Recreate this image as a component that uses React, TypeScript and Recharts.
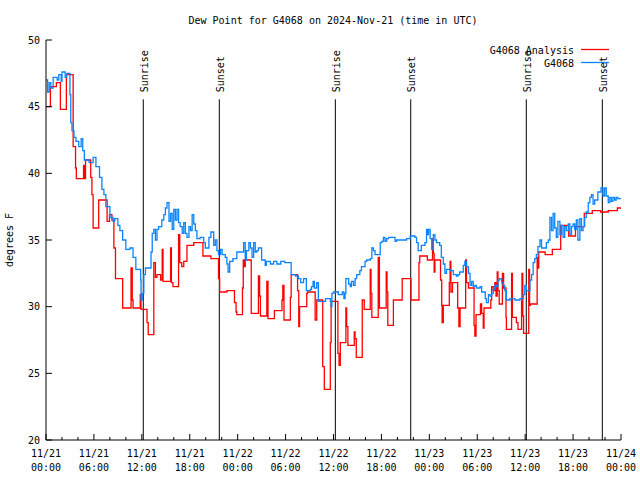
import { Line, LineChart, ReferenceLine, XAxis, YAxis } from "recharts"

// hours since 11/21 00:00 UTC, dew point in degrees F
const obsHours = [
  0, 0.2, 0.4, 0.6, 0.9, 1.4, 1.6, 1.9, 2.0, 2.4, 2.6, 3.0, 3.1, 3.25, 3.5, 3.75, 4.1, 4.4, 4.6, 4.8,
  5.4, 5.9, 6.25, 6.7, 7.0, 7.25, 7.5, 8.0, 8.4, 8.6, 9.0, 9.25, 9.6, 10.0, 10.5, 10.9, 11.25, 11.85, 11.9, 12.05,
  12.25, 12.45, 13.15, 13.3, 13.5, 13.7, 13.9, 14.1, 14.5, 14.75, 14.95, 15.15, 15.4, 15.6, 15.8, 16.0, 16.2, 16.4, 16.6, 16.8,
  17.05, 17.25, 17.45, 17.65, 17.9, 18.1, 18.3, 18.5, 18.7, 18.9, 19.3, 19.75, 19.95, 20.4, 20.65, 21.0, 21.2, 21.4, 21.6, 21.85,
  22.05, 22.45, 22.65, 22.8, 23.0, 23.4, 23.9, 24.5, 24.75, 24.95, 25.1, 25.4, 25.6, 25.8, 26.0, 26.2, 26.4, 26.6, 27.0, 27.45,
  27.6, 28.1, 28.5, 28.9, 29.4, 29.9, 30.7, 31.25, 31.6, 31.9, 32.25, 32.6, 33.1, 33.25, 33.45, 33.6, 33.9, 34.1, 35.0, 35.6,
  35.7, 35.8, 36.0, 36.6, 37.1, 37.3, 37.45, 37.55, 37.9, 38.1, 38.25, 38.5, 38.7, 38.9, 39.3, 39.5, 39.95, 40.15, 40.6, 40.8,
  41.0, 41.2, 41.85, 42.05, 42.25, 42.45, 42.65, 42.9, 43.7, 43.9, 45.15, 45.6, 46.2, 46.4, 46.6, 47.0, 47.45, 47.65, 47.75, 47.9,
  48.1, 48.3, 48.5, 48.7, 48.9, 49.3, 49.5, 49.75, 49.95, 50.15, 50.6, 51.0, 51.4, 51.6, 51.8, 52.25, 52.45, 52.65, 52.9, 53.1,
  53.3, 53.5, 53.7, 53.9, 54.35, 54.55, 55.0, 55.15, 55.4, 55.6, 55.8, 56.0, 56.2, 56.4, 56.6, 56.8, 57.05, 57.25, 57.45, 57.65,
  58.1, 58.7, 59.35, 59.75, 59.95, 60.15, 60.6, 60.8, 61.0, 61.2, 61.4, 61.6, 61.85, 62.05, 62.65, 62.9, 63.1, 63.3, 63.5, 63.7,
  63.9, 64.1, 64.35, 64.55, 64.75, 64.95, 65.15, 65.4, 65.6, 65.8, 66.0, 66.2, 66.4, 66.6, 66.85, 67.05, 67.25, 67.45, 67.65, 67.9,
  68.1, 68.3, 68.5, 68.7, 69.1, 69.5, 69.75, 69.95, 70.15, 70.4, 70.6, 70.8, 71.0, 71.2, 71.4, 71.6, 72,
]
const obsValues = [
  47.0, 46.1, 46.8, 46.4, 47.2, 47.0, 47.4, 46.9, 47.6, 47.2, 47.5, 45.9, 43.8, 43.2, 42.7, 42.4, 42.0, 42.6, 41.7, 41.0,
  40.8, 41.2, 40.5, 39.7, 38.8, 38.4, 37.5, 36.7, 36.4, 36.6, 36.1, 35.7, 35.0, 34.3, 34.4, 33.7, 32.8, 32.0, 30.5, 31.0,
  32.4, 32.9, 34.1, 35.5, 35.8, 35.0, 35.8, 36.0, 36.5, 36.9, 37.4, 37.8, 36.4, 37.0, 35.8, 37.3, 36.5, 37.3, 36.3, 36.0,
  35.5, 36.3, 35.5, 35.2, 36.0, 35.7, 36.9, 36.2, 35.7, 35.1, 35.2, 34.8, 34.4, 35.2, 35.6, 34.6, 35.0, 34.2, 33.9, 34.3,
  33.9, 33.7, 33.2, 32.6, 33.4, 33.6, 34.1, 34.1, 34.8, 33.5, 34.2, 34.8, 34.4, 33.7, 34.8, 34.1, 34.2, 34.4, 33.5, 33.1,
  33.4, 33.2, 33.4, 33.2, 33.4, 33.3, 32.4, 32.3, 32.1, 31.8, 32.1, 31.2, 31.3, 31.5, 31.9, 31.4, 31.8, 30.4, 30.6, 30.4,
  30.0, 31.0, 31.1, 30.9, 31.1, 30.6, 31.0, 32.1, 31.7, 31.5, 31.9, 31.6, 32.1, 32.4, 32.7, 33.0, 33.4, 33.5, 33.6, 34.4,
  34.2, 33.9, 34.8, 34.9, 35.2, 34.9, 35.1, 35.2, 34.9, 35.0, 35.1, 35.3, 35.2, 34.8, 34.2, 34.6, 34.8, 35.8, 35.4, 35.8,
  35.1, 34.3, 35.4, 35.0, 34.8, 34.6, 33.7, 33.2, 32.5, 32.8, 32.7, 32.4, 32.3, 32.4, 32.6, 33.1, 33.4, 33.0, 32.5, 31.6,
  31.9, 31.5, 31.6, 31.4, 31.5, 31.1, 30.6, 30.3, 30.9, 30.8, 31.0, 31.3, 31.6, 31.5, 32.0, 32.1, 31.8, 31.6, 31.2, 30.5,
  30.6, 30.5, 30.6, 30.9, 31.6, 31.2, 32.0, 32.4, 33.3, 33.6, 33.9, 34.5, 35.0, 34.4, 34.8, 35.0, 36.7, 35.7, 37.0, 35.9,
  35.2, 36.4, 35.4, 36.1, 35.2, 36.0, 35.7, 36.2, 35.4, 36.0, 36.2, 35.8, 36.5, 35.0, 36.6, 35.7, 36.0, 36.7, 37.1, 37.8,
  38.2, 38.4, 37.7, 38.0, 38.6, 38.9, 38.3, 38.9, 38.3, 37.8, 38.2, 37.9, 38.2, 38.0, 38.2, 38.1, 38.1,
]

const anaHours = [
  0, 0.55, 1.3, 1.8, 2.55, 3.4, 3.7, 3.8, 4.7, 4.8, 4.95, 5.6, 5.75, 5.9, 6.6, 7.65, 7.95, 8.25, 8.5, 8.7,
  9.6, 10.65, 10.8, 10.9, 11.8, 11.9, 12.65, 12.8, 13.5, 13.7, 13.9, 14.35, 14.55, 14.65, 15.6, 15.7, 15.9, 16.6, 16.75, 17.0,
  17.25, 17.65, 18.5, 19.65, 20.65, 21.6, 21.75, 22.65, 23.6, 23.8, 23.9, 24.6, 24.7, 24.85, 24.95, 25.7, 26.6, 26.75, 26.85, 27.65,
  27.8, 28.6, 29.55, 29.65, 29.8, 30.6, 30.7, 31.5, 31.65, 31.75, 32.65, 32.75, 33.7, 33.9, 34.65, 34.85, 35.6, 35.7, 36.55, 36.7,
  36.85, 37.55, 37.65, 37.8, 38.6, 38.7, 38.85, 39.6, 39.85, 40.6, 40.7, 40.8, 41.6, 41.75, 42.6, 42.7, 42.8, 43.5, 44.6, 45.7,
  46.7, 46.8, 47.75, 48.4, 48.5, 48.6, 48.7, 49.4, 49.55, 49.6, 49.75, 50.5, 50.6, 50.7, 50.9, 51.55, 51.7, 51.85, 52.55, 52.65,
  52.9, 53.6, 53.7, 53.85, 54.4, 54.55, 54.75, 54.85, 55.7, 55.8, 56.0, 56.2, 56.35, 56.5, 56.6, 56.75, 57.15, 57.3, 57.6, 57.65,
  58.3, 58.4, 58.9, 59.1, 59.55, 59.6, 59.7, 59.8, 60.45, 60.55, 60.65, 61.5, 61.6, 61.7, 62.5, 63.4, 64.45, 65.45, 66.3, 67.4,
  68.4, 69.45, 70.4, 71.55, 72,
]
const anaValues = [
  45.0, 46.5, 46.8, 44.8, 47.4, 42.0, 40.4, 39.6, 40.6, 39.6, 41.0, 39.7, 38.4, 35.9, 38.0, 36.4, 36.9, 36.5, 34.4, 32.1,
  29.9, 32.9, 30.5, 29.9, 30.9, 29.8, 28.8, 27.9, 33.3, 32.2, 32.4, 32.0, 34.3, 31.9, 34.4, 31.8, 31.5, 35.4, 33.3, 33.0,
  33.4, 34.6, 34.8, 33.8, 33.6, 32.1, 31.1, 31.2, 30.3, 29.6, 29.4, 31.4, 33.5, 33.0, 33.5, 29.5, 32.3, 30.8, 29.3, 31.9,
  29.1, 29.7, 30.5, 31.6, 29.0, 30.7, 32.4, 31.2, 28.5, 30.0, 31.0, 31.1, 29.0, 30.5, 25.5, 23.8, 27.3, 30.4, 26.5, 25.6,
  27.3, 29.9, 28.5, 27.1, 28.1, 27.6, 26.2, 30.5, 29.8, 32.8, 31.0, 29.2, 33.7, 29.9, 32.6, 31.1, 28.6, 30.5, 32.1, 30.5,
  33.3, 33.8, 33.5, 35.1, 34.0, 32.6, 33.5, 32.0, 30.1, 28.8, 30.1, 31.8, 33.4, 31.1, 31.8, 29.9, 28.5, 29.9, 33.5, 31.8,
  31.4, 28.6, 27.8, 29.4, 30.2, 29.5, 28.4, 29.9, 30.5, 31.5, 31.2, 31.8, 30.8, 32.6, 31.2, 30.2, 32.5, 31.4, 29.2, 28.3,
  32.5, 29.2, 28.8, 28.3, 30.4, 32.5, 29.3, 28.0, 32.8, 30.1, 30.2, 33.7, 32.9, 34.1, 33.9, 34.3, 36.1, 35.3, 36.0, 37.0,
  37.2, 37.1, 37.2, 37.4, 37.4,
]

const sunHours = [12.18, 21.7, 36.23, 45.67, 60.14, 69.66]
const sunLabels = ["Sunrise", "Sunset", "Sunrise", "Sunset", "Sunrise", "Sunset"]
const sunLineTop = 45.55

const xTicks = [0, 2, 4, 6, 8, 10, 12, 14, 16, 18, 20, 22, 24, 26, 28, 30, 32, 34, 36, 38, 40, 42, 44, 46, 48, 50, 52, 54, 56, 58, 60, 62, 64, 66, 68, 70, 72]
const majorHours = [0, 6, 12, 18, 24, 30, 36, 42, 48, 54, 60, 66, 72]
const dateLabels = ["11/21", "11/21", "11/21", "11/21", "11/22", "11/22", "11/22", "11/22", "11/23", "11/23", "11/23", "11/23", "11/24"]
const timeLabels = ["00:00", "06:00", "12:00", "18:00", "00:00", "06:00", "12:00", "18:00", "00:00", "06:00", "12:00", "18:00", "00:00"]
const yTicks = [20, 25, 30, 35, 40, 45, 50]

const seriesNames = ["G4068 Analysis", "G4068"]
const seriesColors = ["#ff0000", "#0a84ff"]

const FONT = "'DejaVu Sans Mono', 'Liberation Mono', monospace"

const anaData = anaHours.map((h, i) => ({ h, v: anaValues[i] }))
const obsData = obsHours.map((h, i) => ({ h, v: obsValues[i] }))

function BottomTick({ x, y, payload }: any) {
  const i = majorHours.indexOf(payload.value)
  const major = i >= 0
  return (
    <g>
      <line x1={x} x2={x} y1={y} y2={y - (major ? 6 : 3)} stroke="#000" />
      {major && (
        <text x={x} y={y + 17} textAnchor="middle" fontFamily={FONT} fontSize={10} fill="#000">
          {dateLabels[i]}
        </text>
      )}
      {major && (
        <text x={x} y={y + 31} textAnchor="middle" fontFamily={FONT} fontSize={10} fill="#000">
          {timeLabels[i]}
        </text>
      )}
    </g>
  )
}

function TopTick({ x, y, payload }: any) {
  const major = majorHours.includes(payload.value)
  return <line x1={x} x2={x} y1={y} y2={y + (major ? 6 : 3)} stroke="#000" />
}

function LeftTick({ x, y, payload }: any) {
  return (
    <g>
      <line x1={x} x2={x + 6} y1={y} y2={y} stroke="#000" />
      <text x={x - 6} y={y + 3.5} textAnchor="end" fontFamily={FONT} fontSize={10} fill="#000">
        {payload.value}
      </text>
    </g>
  )
}

function RightTick({ x, y }: any) {
  return <line x1={x} x2={x - 6} y1={y} y2={y} stroke="#000" />
}

function SunLabel({ viewBox, text }: any) {
  if (!viewBox) return null
  const x = viewBox.x + 4.5
  const y = viewBox.y - 7
  return (
    <text x={x} y={y} transform={`rotate(-90 ${x} ${y})`} fontFamily={FONT} fontSize={10} fill="#000">
      {text}
    </text>
  )
}

export default function App() {
  return (
    <div style={{ width: 640, height: 480, background: "#fff" }}>
      <style>{"body{margin:0}"}</style>
      <LineChart width={640} height={480} margin={{ top: 40, right: 19, bottom: 0, left: 0 }}>
        <XAxis
          xAxisId="b"
          type="number"
          dataKey="h"
          domain={[0, 72]}
          ticks={xTicks}
          interval={0}
          height={40}
          tickSize={0}
          tickMargin={0}
          tickLine={false}
          axisLine={{ stroke: "#000" }}
          tick={<BottomTick />}
          allowDataOverflow
        />
        <XAxis
          xAxisId="t"
          orientation="top"
          type="number"
          domain={[0, 72]}
          ticks={xTicks}
          interval={0}
          height={0}
          tickSize={0}
          tickMargin={0}
          tickLine={false}
          axisLine={{ stroke: "#000" }}
          tick={<TopTick />}
          allowDataOverflow
        />
        <YAxis
          yAxisId="l"
          type="number"
          domain={[20, 50]}
          ticks={yTicks}
          interval={0}
          width={46}
          tickSize={0}
          tickMargin={0}
          tickLine={false}
          axisLine={{ stroke: "#000" }}
          tick={<LeftTick />}
          allowDataOverflow
        />
        <YAxis
          yAxisId="r"
          orientation="right"
          type="number"
          domain={[20, 50]}
          ticks={yTicks}
          interval={0}
          width={0}
          tickSize={0}
          tickMargin={0}
          tickLine={false}
          axisLine={{ stroke: "#000" }}
          tick={<RightTick />}
          allowDataOverflow
        />
        {sunHours.map((h, i) => (
          <ReferenceLine
            key={i}
            xAxisId="b"
            yAxisId="l"
            segment={[{ x: h, y: 20 }, { x: h, y: sunLineTop }]}
            stroke="#000"
            strokeWidth={1}
            label={<SunLabel text={sunLabels[i]} />}
          />
        ))}
        <Line
          xAxisId="b"
          yAxisId="l"
          data={anaData}
          dataKey="v"
          type="stepAfter"
          stroke={seriesColors[0]}
          strokeWidth={1.3}
          dot={false}
          isAnimationActive={false}
        />
        <Line
          xAxisId="b"
          yAxisId="l"
          data={obsData}
          dataKey="v"
          type="stepAfter"
          stroke={seriesColors[1]}
          strokeWidth={1.3}
          dot={false}
          isAnimationActive={false}
        />
        <text x={333} y={24} textAnchor="middle" fontFamily={FONT} fontSize={10} fill="#000">
          Dew Point for G4068 on 2024-Nov-21 (time in UTC)
        </text>
        <text x={13} y={240} transform="rotate(-90 13 240)" textAnchor="middle" fontFamily={FONT} fontSize={10} fill="#000">
          degrees F
        </text>
        {seriesNames.map((name, i) => (
          <g key={name}>
            <text x={574} y={53.5 + i * 13} textAnchor="end" fontFamily={FONT} fontSize={10} fill="#000">
              {name}
            </text>
            <line x1={581} x2={609} y1={49.5 + i * 13} y2={49.5 + i * 13} stroke={seriesColors[i]} strokeWidth={1.3} />
          </g>
        ))}
      </LineChart>
    </div>
  )
}
